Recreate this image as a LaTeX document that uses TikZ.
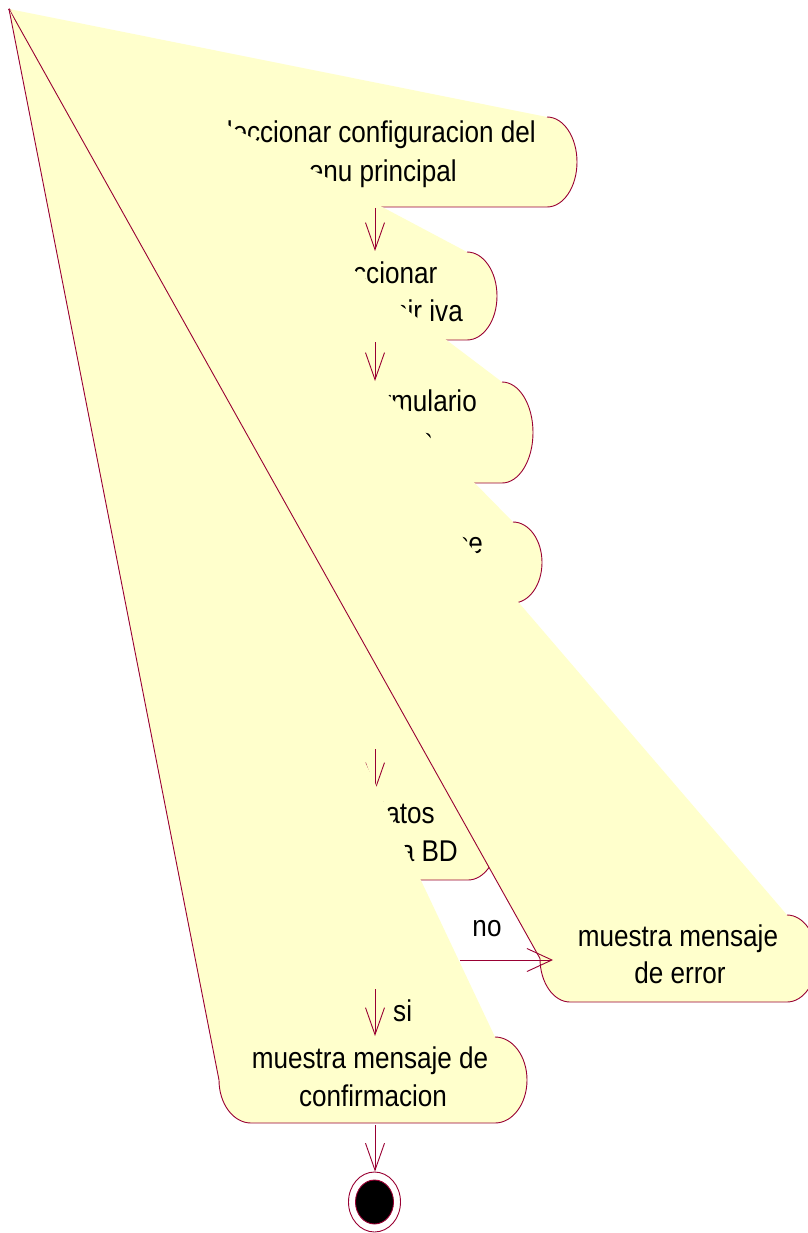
\documentclass[tikz,border=0pt]{standalone}
\usepackage{fontspec}
\setmainfont{Liberation Sans}[FakeStretch=0.87]
\usetikzlibrary{arrows.meta,shapes.geometric}
\definecolor{actfill}{RGB}{255,255,204}
\definecolor{actline}{RGB}{153,0,51}
\tikzset{
  actedge/.style={draw=actline, line width=0.9pt},
  flowarrow/.style={draw=actline, line width=0.9pt, -{Straight Barb[length=27pt,width=19pt]}},
  noarrow/.style={draw=actline, line width=0.9pt, -{Straight Barb[length=25pt,width=23pt]}},
  lbl/.style={font=\fontsize{30}{38}\selectfont, inner sep=0pt, text=black},
}
% #1 name, #2 left, #3 top, #4 right, #5 bottom, #6 corner x-radius
\newcommand{\warpact}[6]{%
  \pgfmathsetmacro\wry{(#5-#3)/2}%
  \pgfmathsetmacro\wkx{0.5523*#6}%
  \pgfmathsetmacro\wky{0.5523*\wry}%
  \fill[actfill] (apex) -- (#4-#6,#3)
     .. controls (#4-#6+\wkx,#3) and (#4,#3+\wry-\wky) .. (#4,#3+\wry)
     .. controls (#4,#5-\wry+\wky) and (#4-#6+\wkx,#5) .. (#4-#6,#5)
     -- (#2+#6,#5)
     .. controls (#2+#6-\wkx,#5) and (#2,#5-\wry+\wky) .. (#2,#5-\wry)
     -- cycle;
  \draw[actedge] (apex) -- (#2,#5-\wry)
     .. controls (#2,#5-\wry+\wky) and (#2+#6-\wkx,#5) .. (#2+#6,#5)
     -- (#4-#6,#5)
     .. controls (#4-#6+\wkx,#5) and (#4,#5-\wry+\wky) .. (#4,#3+\wry)
     .. controls (#4,#3+\wry-\wky) and (#4-#6+\wkx,#3) .. (#4-#6,#3);
}
\begin{document}
\begin{tikzpicture}[x=1pt,y=-1pt]
\useasboundingbox[fill=white] (0,0) rectangle (807,1233);
\coordinate (apex) at (9,9);

% activity 1
\warpact{s1}{169}{117}{577}{207}{30}
\node[lbl, anchor=base east] (s1a) at (536,143) {leccionar configuracion del};
\node[lbl, anchor=base east] (s1b) at (457,182) {enu principal};
\coordinate (s1bot) at (375,208);

% activity 2
\warpact{s2}{249}{252}{497}{340}{30}
\node[lbl, anchor=base east] (s2a) at (437.5,283) {eccionar};
\node[lbl, anchor=base east] (s2b) at (463,321) {nir iva};
\coordinate (s2top) at (375,251);
\coordinate (s2bot) at (375,342);
\draw[flowarrow] (s1bot) -- (s2top);

% activity 3
\warpact{s3}{213}{382}{533}{483}{31}
\node[lbl, anchor=base east] (s3a) at (477,411) {rmulario};
\node[lbl, anchor=base east] (s3b) at (433,449) {a};
\coordinate (s3top) at (375,381);
\draw[flowarrow] (s2bot) -- (s3top);

% activity 4
\warpact{s4}{204}{522}{542}{603}{29}
\node[lbl, anchor=base east] (s4a) at (483,553) {uce};

% activity 5
\warpact{s5}{248}{792}{498}{880}{30}
\node[lbl, anchor=base east] (s5a) at (435,823) {datos};
\node[lbl, anchor=base east] (s5b) at (458,861) {la BD};
\coordinate (s5in) at (375,749);
\coordinate (s5top) at (375,791);
\draw[flowarrow] (s5in) -- (s5top);

% error activity
\warpact{s6}{540}{915}{817}{1002}{30}
\node[lbl, anchor=base] (s6a) at (678,946) {muestra mensaje};
\node[lbl, anchor=base] (s6b) at (680,983) {de error};
\coordinate (dright) at (460,960);
\coordinate (s6in) at (553,960);
\draw[noarrow] (dright) -- (s6in);
\node[lbl, anchor=base] (nolbl) at (487,936) {no};

% confirmation activity
\warpact{s7}{219}{1037}{527}{1123}{32}
\node[lbl, anchor=base] (s7a) at (370,1068) {muestra mensaje de};
\node[lbl, anchor=base] (s7b) at (373,1106) {confirmacion};
\coordinate (dbot) at (375,989);
\coordinate (s7top) at (375,1036);
\draw[flowarrow] (dbot) -- (s7top);
\node[lbl, anchor=base west] (silbl) at (393,1021) {si};

% final state
\coordinate (s7bot) at (375,1125);
\node[draw=actline, line width=0.9pt, ellipse, minimum width=52pt, minimum height=60pt, inner sep=0pt] (endo) at (374.5,1202) {};
\node[draw=actline, line width=0.9pt, fill=black, ellipse, minimum width=38pt, minimum height=44pt, inner sep=0pt] (endi) at (374.5,1202) {};
\draw[flowarrow] (s7bot) -- (s7bot |- endo.north);
\end{tikzpicture}
\end{document}
